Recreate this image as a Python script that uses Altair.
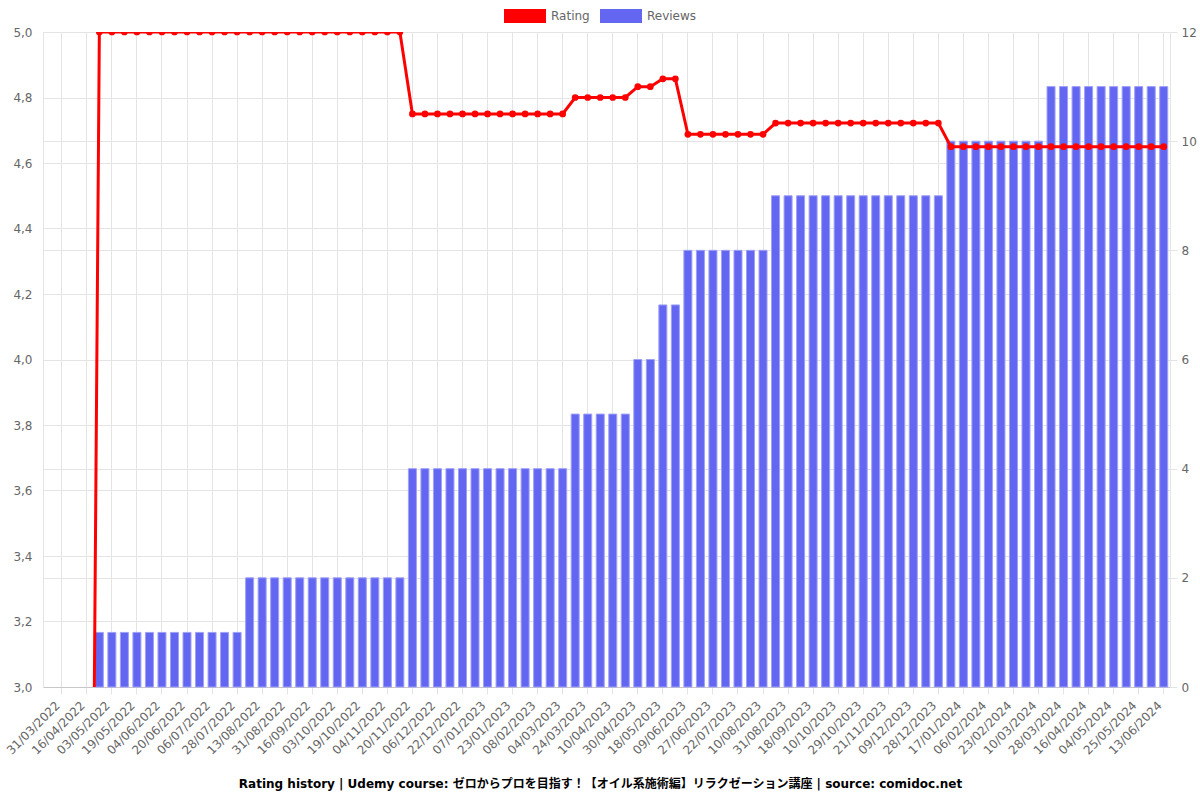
import altair as alt
import pandas as pd

# ---- data ----
dates = [
    "23/03/2022", "31/03/2022", "08/04/2022", "16/04/2022", "25/04/2022",
    "03/05/2022", "11/05/2022", "19/05/2022", "27/05/2022", "04/06/2022",
    "12/06/2022", "20/06/2022", "28/06/2022", "06/07/2022", "17/07/2022",
    "28/07/2022", "05/08/2022", "13/08/2022", "22/08/2022", "31/08/2022",
    "08/09/2022", "16/09/2022", "25/09/2022", "03/10/2022", "11/10/2022",
    "19/10/2022", "27/10/2022", "04/11/2022", "12/11/2022", "20/11/2022",
    "28/11/2022", "06/12/2022", "14/12/2022", "22/12/2022", "30/12/2022",
    "07/01/2023", "15/01/2023", "23/01/2023", "31/01/2023", "08/02/2023",
    "20/02/2023", "04/03/2023", "14/03/2023", "24/03/2023", "01/04/2023",
    "10/04/2023", "20/04/2023", "30/04/2023", "09/05/2023", "18/05/2023",
    "28/05/2023", "09/06/2023", "18/06/2023", "27/06/2023", "09/07/2023",
    "22/07/2023", "01/08/2023", "10/08/2023", "20/08/2023", "31/08/2023",
    "09/09/2023", "18/09/2023", "29/09/2023", "10/10/2023", "19/10/2023",
    "29/10/2023", "09/11/2023", "21/11/2023", "30/11/2023", "09/12/2023",
    "18/12/2023", "28/12/2023", "07/01/2024", "17/01/2024", "27/01/2024",
    "06/02/2024", "15/02/2024", "23/02/2024", "02/03/2024", "10/03/2024",
    "19/03/2024", "28/03/2024", "06/04/2024", "16/04/2024", "25/04/2024",
    "04/05/2024", "15/05/2024", "25/05/2024", "04/06/2024", "13/06/2024",
]

tick_labels = [
    "31/03/2022", "16/04/2022", "03/05/2022", "19/05/2022", "04/06/2022",
    "20/06/2022", "06/07/2022", "28/07/2022", "13/08/2022", "31/08/2022",
    "16/09/2022", "03/10/2022", "19/10/2022", "04/11/2022", "20/11/2022",
    "06/12/2022", "22/12/2022", "07/01/2023", "23/01/2023", "08/02/2023",
    "04/03/2023", "24/03/2023", "10/04/2023", "30/04/2023", "18/05/2023",
    "09/06/2023", "27/06/2023", "22/07/2023", "10/08/2023", "31/08/2023",
    "18/09/2023", "10/10/2023", "29/10/2023", "21/11/2023", "09/12/2023",
    "28/12/2023", "17/01/2024", "06/02/2024", "23/02/2024", "10/03/2024",
    "28/03/2024", "16/04/2024", "04/05/2024", "25/05/2024", "13/06/2024",
]

ratings = [
    0, 0, 0, 0, 5.0,
    5.0, 5.0, 5.0, 5.0, 5.0,
    5.0, 5.0, 5.0, 5.0, 5.0,
    5.0, 5.0, 5.0, 5.0, 5.0,
    5.0, 5.0, 5.0, 5.0, 5.0,
    5.0, 5.0, 5.0, 5.0, 4.75,
    4.75, 4.75, 4.75, 4.75, 4.75,
    4.75, 4.75, 4.75, 4.75, 4.75,
    4.75, 4.75, 4.8, 4.8, 4.8,
    4.8, 4.8, 4.833, 4.833, 4.857,
    4.857, 4.6875, 4.6875, 4.6875, 4.6875,
    4.6875, 4.6875, 4.6875, 4.722, 4.722,
    4.722, 4.722, 4.722, 4.722, 4.722,
    4.722, 4.722, 4.722, 4.722, 4.722,
    4.722, 4.722, 4.65, 4.65, 4.65,
    4.65, 4.65, 4.65, 4.65, 4.65,
    4.65, 4.65, 4.65, 4.65, 4.65,
    4.65, 4.65, 4.65, 4.65, 4.65,
]

reviews = [
    0, 0, 0, 0, 1,
    1, 1, 1, 1, 1,
    1, 1, 1, 1, 1,
    1, 2, 2, 2, 2,
    2, 2, 2, 2, 2,
    2, 2, 2, 2, 4,
    4, 4, 4, 4, 4,
    4, 4, 4, 4, 4,
    4, 4, 5, 5, 5,
    5, 5, 6, 6, 7,
    7, 8, 8, 8, 8,
    8, 8, 8, 9, 9,
    9, 9, 9, 9, 9,
    9, 9, 9, 9, 9,
    9, 9, 10, 10, 10,
    10, 10, 10, 10, 10,
    11, 11, 11, 11, 11,
    11, 11, 11, 11, 11,
]

rating_ticks = [3.0, 3.2, 3.4, 3.6, 3.8, 4.0, 4.2, 4.4, 4.6, 4.8, 5.0]
review_ticks = [0, 2, 4, 6, 8, 10, 12]
series_names = ["Rating", "Reviews"]
series_colors = ["#ff0000", "#6366f1"]

title_text = ("Rating history | Udemy course: "
              "ゼロからプロを目指す！【オイル系施術編】リラクゼーション講座"
              " | source: comidoc.net")

df = pd.DataFrame({"date": dates, "rating": ratings, "reviews": reviews})

GRID = "#e4e4e4"
LABEL = "#666666"
FONT = "DejaVu Sans"

x_enc = alt.X(
    "date:O",
    sort=None,
    scale=alt.Scale(domain=dates, paddingInner=0, paddingOuter=0),
    axis=alt.Axis(
        values=tick_labels,
        title=None,
        labelAngle=-45,
        labelAlign="right",
        labelBaseline="middle",
        labelPadding=9,
        labelOffset=-4,
        labelFontSize=12,
        labelColor=LABEL,
        labelFont=FONT,
        labelOverlap=False,
        labelBound=False,
        tickSize=7,
        tickColor=GRID,
        grid=True,
        gridColor=GRID,
        domainColor="#c8c8c8",
        bandPosition=0.5,
    ),
)

base = alt.Chart(df)

bars = base.transform_calculate(series="'Reviews'").transform_filter(
    "datum.reviews > 0"
).mark_bar(
    width=alt.RelativeBandSize(0.64),
    stroke="#9fa1f7",
    strokeWidth=1,
    opacity=1,
).encode(
    x=x_enc,
    y=alt.Y(
        "reviews:Q",
        scale=alt.Scale(domain=[0, 12], nice=False),
        axis=alt.Axis(
            orient="right",
            values=review_ticks,
            title=None,
            labelFontSize=12,
            labelColor=LABEL,
            labelFont=FONT,
            labelPadding=4,
            tickSize=7,
            tickColor=GRID,
            grid=True,
            gridColor=GRID,
            domainColor=GRID,
        ),
    ),
    color=alt.Color(
        "series:N",
        scale=alt.Scale(domain=series_names, range=series_colors),
        legend=alt.Legend(
            orient="none",
            legendX=461,
            legendY=-37,
            direction="horizontal",
            title=None,
            symbolType="M-1,-0.33H1V0.33H-1Z",
            symbolSize=1764,
            symbolStrokeWidth=0,
            symbolOpacity=1,
            labelFontSize=12,
            labelColor=LABEL,
            labelFont=FONT,
            labelOffset=5,
            columnPadding=10,
            padding=0,
        ),
    ),
)

line = base.mark_line(color="#ff0000", strokeWidth=3, clip=True).encode(
    x=x_enc,
    y=alt.Y(
        "rating:Q",
        scale=alt.Scale(domain=[3, 5], nice=False, zero=False),
        axis=alt.Axis(
            orient="left",
            values=rating_ticks,
            labelExpr="replace(format(datum.value, '.1f'), '.', ',')",
            title=None,
            labelFontSize=12,
            labelColor=LABEL,
            labelFont=FONT,
            labelPadding=11,
            ticks=False,
            grid=True,
            gridColor=GRID,
            domainColor=GRID,
        ),
    ),
)

points = base.mark_point(
    filled=True, size=45, color="#ff0000", opacity=1, clip=True
).encode(
    x=x_enc,
    y=alt.Y("rating:Q", scale=alt.Scale(domain=[3, 5], nice=False, zero=False), axis=None),
)

chart = (
    alt.layer(bars, line, points)
    .resolve_scale(y="independent")
    .properties(
        width=1127,
        height=655,
        autosize=alt.AutoSizeParams(type="none"),
        padding={"left": 43, "top": 32, "right": 30, "bottom": 113},
        title=alt.Title(
            title_text,
            orient="bottom",
            anchor="middle",
            frame="group",
            dx=-6,
            offset=23,
            fontSize=12,
            fontWeight="bold",
            color="#000000",
            font="DejaVu Sans, Noto Sans CJK JP",
        ),
    )
    .configure_view(stroke=None)
    .configure(font=FONT)
)

chart.save("out.html", embed_options={"renderer": "svg", "actions": False})
